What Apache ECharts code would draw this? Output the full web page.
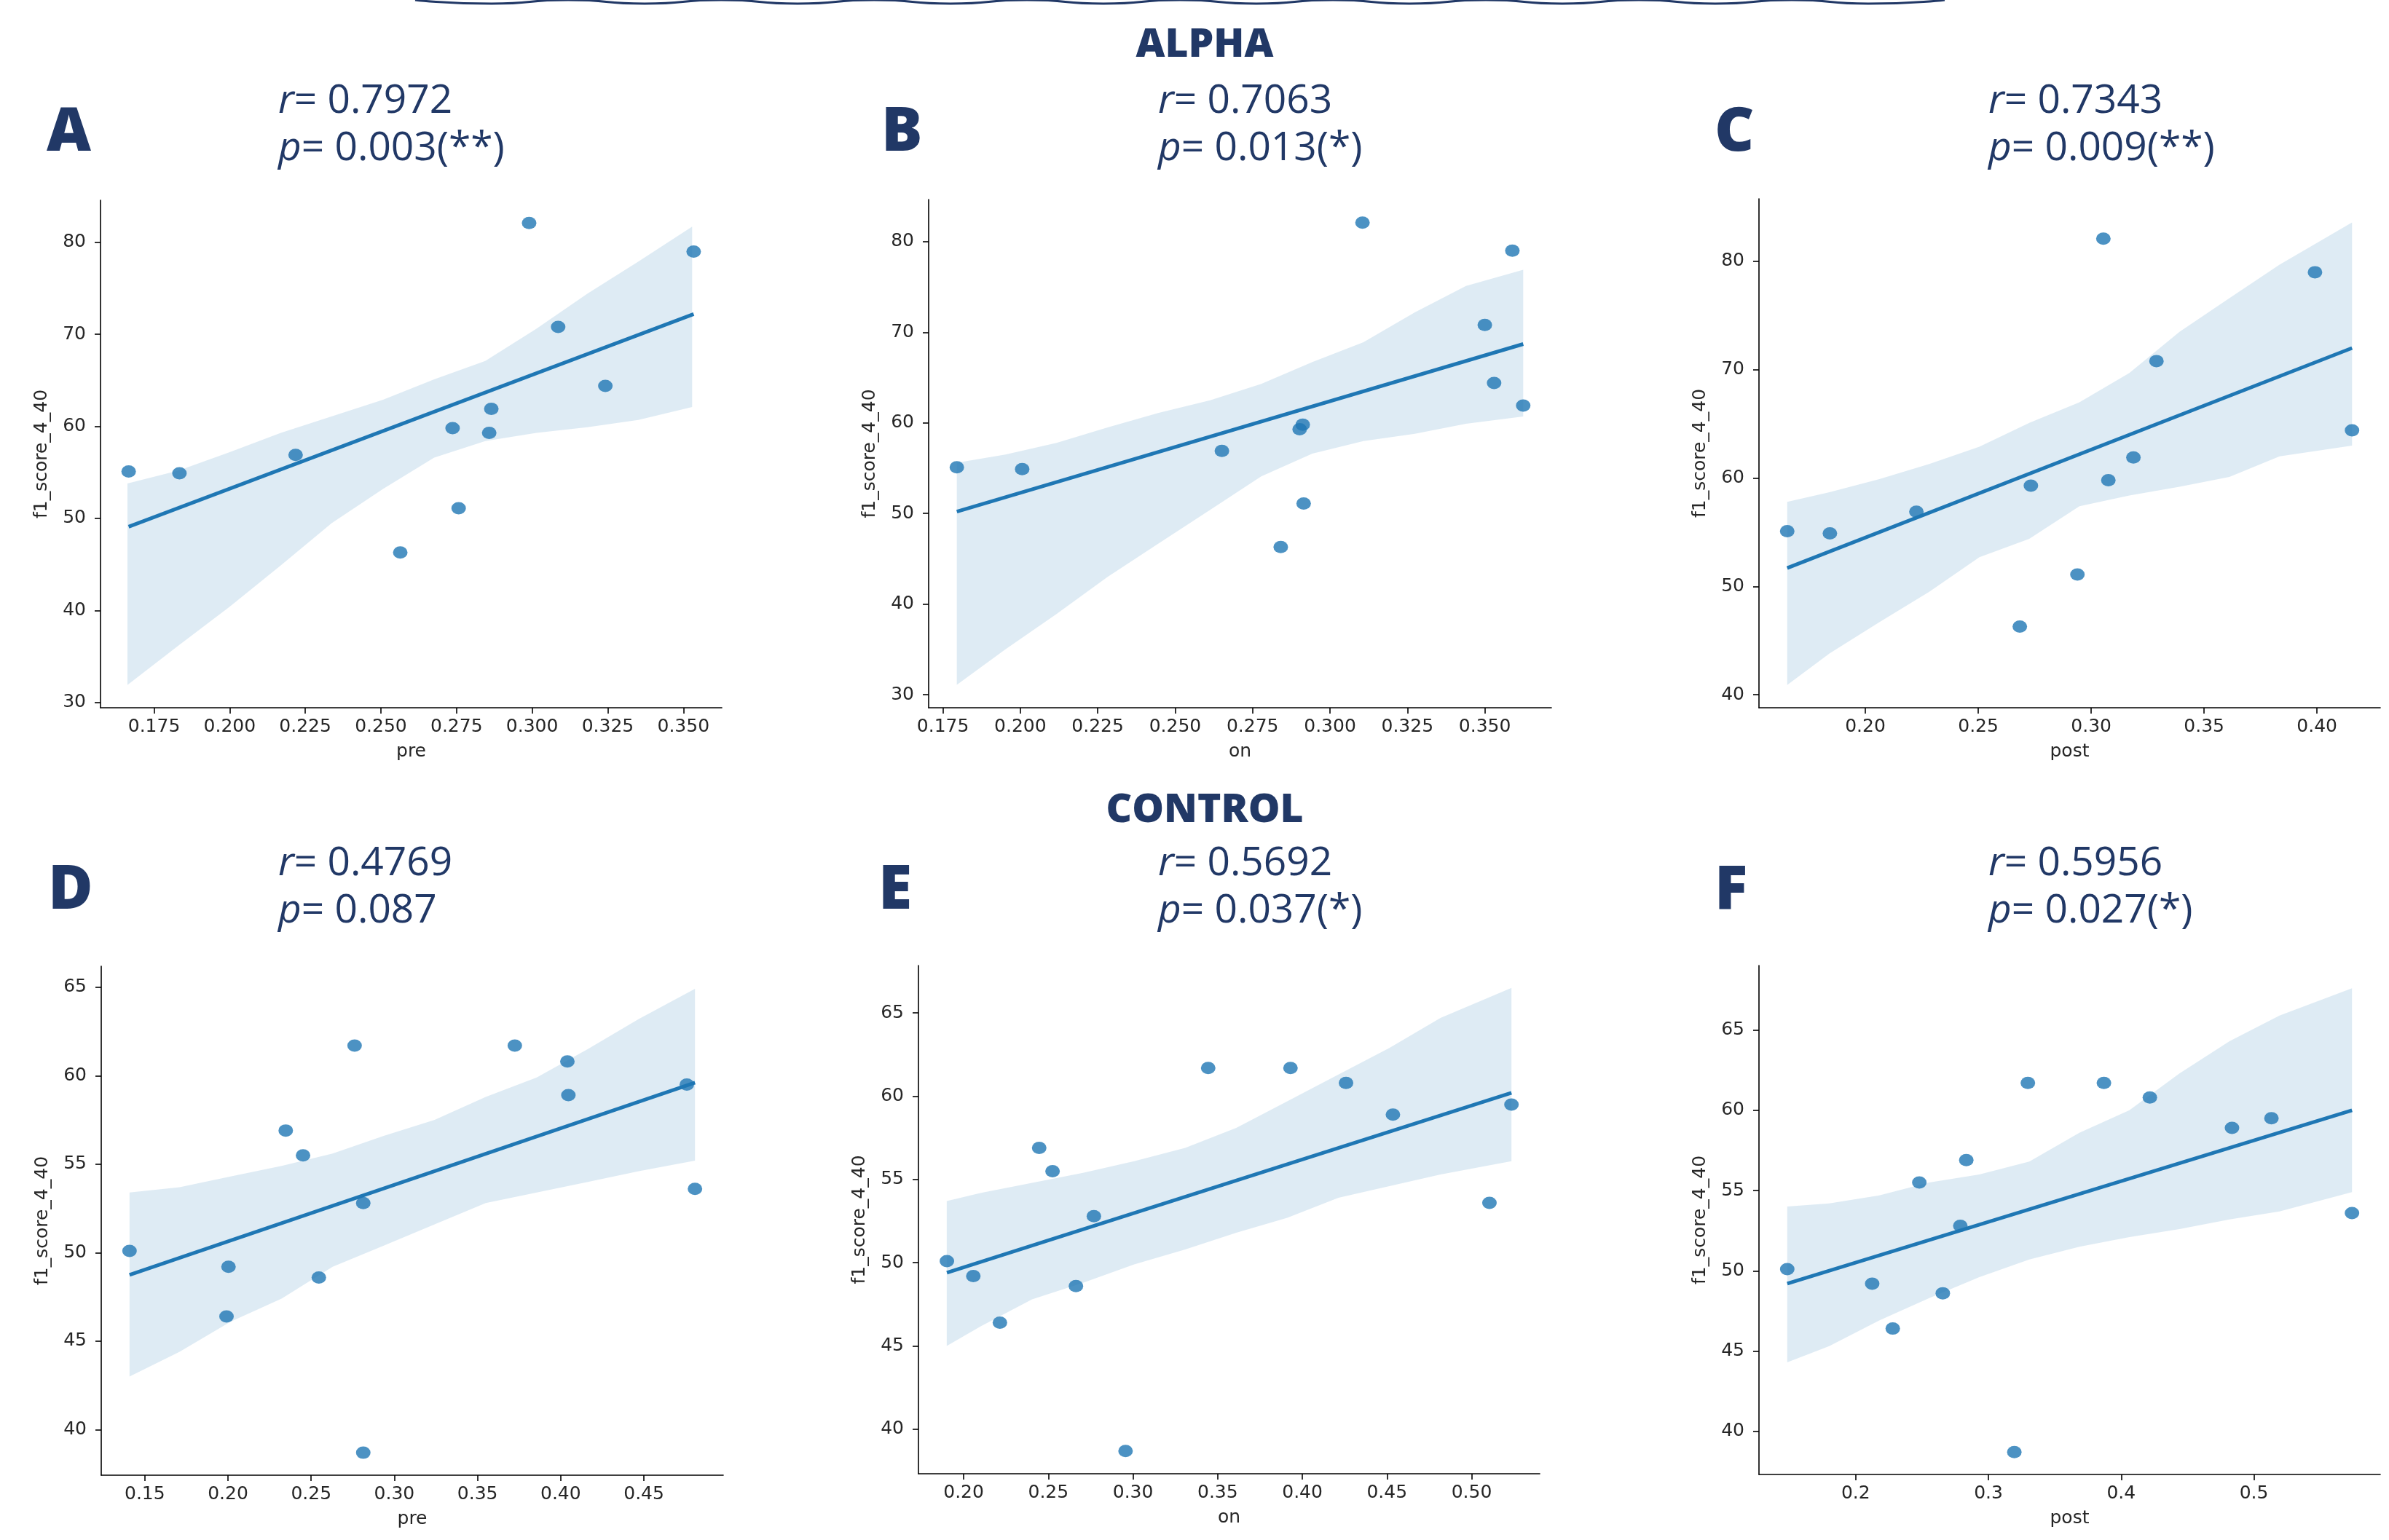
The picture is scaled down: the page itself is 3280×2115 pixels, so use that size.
<!DOCTYPE html>
<html>
<head>
<meta charset="utf-8">
<script src="https://cdn.jsdelivr.net/npm/echarts@6/dist/echarts.min.js"></script>
<style>
html,body{margin:0;padding:0;background:#fff;}
#chart{width:3280px;height:2115px;}
</style>
</head>
<body>
<div id="chart"></div>
<script>
// ---------------- DATA ----------------
// ALPHA group: f1_score_4_40 (12 subjects)
var alphaY    = [55.1, 54.9, 56.9, 46.3, 59.8, 51.1, 61.9, 59.3, 82.1, 70.8, 64.4, 79.0];
var alphaPre  = [0.1666, 0.1834, 0.2218, 0.2564, 0.2737, 0.2757, 0.2865, 0.2858, 0.2990, 0.3086, 0.3242, 0.3534];
var alphaOn   = [0.1795, 0.2006, 0.2651, 0.2841, 0.2912, 0.2915, 0.3624, 0.2902, 0.3105, 0.3500, 0.3530, 0.3589];
var alphaPost = [0.1654, 0.1843, 0.2226, 0.2684, 0.3076, 0.2939, 0.3187, 0.2733, 0.3054, 0.3289, 0.4155, 0.3991];

// CONTROL group: f1_score_4_40 (14 subjects)
var controlY    = [50.1, 49.2, 46.4, 56.9, 55.5, 48.6, 61.7, 52.8, 38.7, 61.7, 60.8, 58.9, 59.5, 53.6];
var controlPre  = [0.1408, 0.2003, 0.1991, 0.2347, 0.2451, 0.2546, 0.2761, 0.2813, 0.2813, 0.3724, 0.4040, 0.4046, 0.4758, 0.4807];
var controlOn   = [0.1901, 0.2057, 0.2214, 0.2446, 0.2525, 0.2663, 0.3444, 0.2769, 0.2956, 0.3930, 0.4258, 0.4535, 0.5235, 0.5105];
var controlPost = [0.1484, 0.2124, 0.2279, 0.2833, 0.2479, 0.2656, 0.3297, 0.2788, 0.3195, 0.3870, 0.4216, 0.4835, 0.5132, 0.5739];

// regression line end points
var lineA = [[0.1666, 49.1], [0.3534, 72.2]];
var lineB = [[0.1795, 50.2], [0.3624, 68.7]];
var lineC = [[0.1654, 51.7], [0.4155, 72.0]];
var lineD = [[0.1408, 48.75], [0.4807, 59.6]];
var lineE = [[0.1901, 49.4], [0.5235, 60.2]];
var lineF = [[0.1484, 49.2], [0.5739, 60.0]];

// confidence bands (x, upper, lower)
var bandAx = [0.1662,0.1831,0.2000,0.2169,0.2338,0.2507,0.2676,0.2845,0.3014,0.3182,0.3351,0.3529];
var bandAu = [53.8,55.2,57.2,59.3,61.1,62.9,65.1,67.1,70.6,74.4,77.9,81.7];
var bandAl = [31.9,36.2,40.4,44.9,49.5,53.2,56.6,58.4,59.3,59.9,60.7,62.1];

var bandBx = [0.1795,0.1952,0.2117,0.2282,0.2447,0.2613,0.2778,0.2943,0.3108,0.3274,0.3439,0.3624];
var bandBu = [55.6,56.5,57.8,59.5,61.1,62.5,64.3,66.7,68.9,72.2,75.1,76.9];
var bandBl = [31.1,35.0,38.9,43.0,46.7,50.4,54.1,56.6,58.0,58.8,59.9,60.7];

var bandCx = [0.1654,0.1841,0.2062,0.2283,0.2505,0.2726,0.2948,0.3169,0.3391,0.3612,0.3834,0.4155];
var bandCu = [57.8,58.7,59.9,61.3,62.9,65.1,67.0,69.7,73.5,76.6,79.7,83.6];
var bandCl = [40.9,43.8,46.7,49.5,52.7,54.4,57.4,58.4,59.2,60.1,62.0,63.0];

var bandDx = [0.1408,0.1709,0.2015,0.2322,0.2629,0.2936,0.3242,0.3549,0.3856,0.4163,0.4469,0.4807];
var bandDu = [53.4,53.7,54.3,54.9,55.6,56.6,57.5,58.8,59.9,61.5,63.2,64.9];
var bandDl = [43.0,44.4,46.1,47.4,49.2,50.4,51.6,52.8,53.4,54.0,54.6,55.2];

var bandEx = [0.1900,0.2103,0.2404,0.2705,0.3007,0.3308,0.3610,0.3911,0.4213,0.4514,0.4816,0.5235];
var bandEu = [53.7,54.2,54.8,55.4,56.1,56.9,58.1,59.7,61.3,62.9,64.7,66.5];
var bandEl = [45.0,46.2,47.8,48.8,49.9,50.8,51.8,52.7,53.9,54.6,55.3,56.1];

var bandFx = [0.1484,0.1800,0.2177,0.2554,0.2931,0.3308,0.3685,0.4062,0.4439,0.4816,0.5193,0.5739];
var bandFu = [54.0,54.2,54.7,55.5,56.0,56.8,58.6,60.0,62.3,64.3,65.9,67.6];
var bandFl = [44.3,45.3,46.9,48.3,49.6,50.7,51.5,52.1,52.6,53.2,53.7,54.9];

// tick values
var xTicksA = [0.175,0.200,0.225,0.250,0.275,0.300,0.325,0.350];
var xTicksB = [0.175,0.200,0.225,0.250,0.275,0.300,0.325,0.350];
var xTicksC = [0.20,0.25,0.30,0.35,0.40];
var xTicksD = [0.15,0.20,0.25,0.30,0.35,0.40,0.45];
var xTicksE = [0.20,0.25,0.30,0.35,0.40,0.45,0.50];
var xTicksF = [0.2,0.3,0.4,0.5];
var yTicksAB = [30,40,50,60,70,80];
var yTicksC = [40,50,60,70,80];
var yTicksDEF = [40,45,50,55,60,65];

// annotations
var panelLetters = ['A','B','C','D','E','F'];
var rTexts = ['0.7972','0.7063','0.7343','0.4769','0.5692','0.5956'];
var pTexts = ['0.003(**)','0.013(*)','0.009(**)','0.087','0.037(*)','0.027(*)'];
var groupTitles = ['ALPHA','CONTROL'];
var xNames = ['pre','on','post','pre','on','post'];
var yName = 'f1_score_4_40';

// ---------------- LAYOUT ----------------
var panels = [
  {grid:{left:138, top:275, width:853, height:697}, x:alphaPre, y:alphaY, line:lineA, bx:bandAx, bu:bandAu, bl:bandAl, xt:xTicksA, yt:yTicksAB, dec:3, xmin:0.1573, xmax:0.3627, ymin:29.43, ymax:84.57},
  {grid:{left:1275, top:274, width:855, height:698}, x:alphaOn, y:alphaY, line:lineB, bx:bandBx, bu:bandBu, bl:bandBl, xt:xTicksB, yt:yTicksAB, dec:3, xmin:0.1704, xmax:0.3715, ymin:28.56, ymax:84.65},
  {grid:{left:2415, top:273, width:853, height:699}, x:alphaPost, y:alphaY, line:lineC, bx:bandCx, bu:bandCu, bl:bandCl, xt:xTicksC, yt:yTicksC, dec:2, xmin:0.1529, xmax:0.4280, ymin:38.8, ymax:85.78},
  {grid:{left:139, top:1327, width:854, height:699}, x:controlPre, y:controlY, line:lineD, bx:bandDx, bu:bandDu, bl:bandDl, xt:xTicksD, yt:yTicksDEF, dec:2, xmin:0.1238, xmax:0.4977, ymin:37.43, ymax:66.18},
  {grid:{left:1261, top:1326, width:853, height:698}, x:controlOn, y:controlY, line:lineE, bx:bandEx, bu:bandEu, bl:bandEl, xt:xTicksE, yt:yTicksDEF, dec:2, xmin:0.1733, xmax:0.5402, ymin:37.33, ymax:67.85},
  {grid:{left:2415, top:1326, width:853, height:699}, x:controlPost, y:controlY, line:lineF, bx:bandFx, bu:bandFu, bl:bandFl, xt:xTicksF, yt:yTicksDEF, dec:1, xmin:0.1271, xmax:0.5952, ymin:37.31, ymax:69.02}
];

var NAVY = '#213866';
var TXT = '#262626';
var BLUE = '#1f77b4';
var tickFont = 'DejaVu Sans';

var grids = [], xAxes = [], yAxes = [], series = [];
panels.forEach(function(p, i){
  grids.push({left:p.grid.left, top:p.grid.top, width:p.grid.width, height:p.grid.height, containLabel:false, outerBoundsMode:'none'});
  xAxes.push({
    type:'value', gridIndex:i, min:p.xmin, max:p.xmax,
    splitLine:{show:false},
    axisLine:{show:true, onZero:false, lineStyle:{color:'#000', width:1.6}},
    axisTick:{show:true, length:8, customValues:p.xt, lineStyle:{color:'#000', width:1.6}},
    axisLabel:{customValues:p.xt, formatter:(function(d){return function(v){return Number(v).toFixed(d);};})(p.dec),
      fontSize:25, color:TXT, margin:14, fontFamily:tickFont},
    name:xNames[i], nameLocation:'middle', nameGap:48,
    nameTextStyle:{fontSize:25, color:TXT, fontFamily:tickFont}
  });
  yAxes.push({
    type:'value', gridIndex:i, min:p.ymin, max:p.ymax,
    splitLine:{show:false},
    axisLine:{show:true, onZero:false, lineStyle:{color:'#000', width:1.6}},
    axisTick:{show:true, length:8, customValues:p.yt, lineStyle:{color:'#000', width:1.6}},
    axisLabel:{customValues:p.yt, fontSize:25, color:TXT, margin:20, fontFamily:tickFont},
    name:yName, nameLocation:'middle', nameGap:68,
    nameTextStyle:{fontSize:25, color:TXT, fontFamily:tickFont}
  });
  // confidence band
  (function(pp){
    series.push({
      type:'custom', xAxisIndex:i, yAxisIndex:i, z:1, silent:true,
      data:[[pp.bx[0], pp.bu[0]]],
      encode:{x:0, y:1},
      renderItem:function(params, api){
        var pts = [];
        for (var k=0;k<pp.bx.length;k++) pts.push(api.coord([pp.bx[k], pp.bu[k]]));
        for (var k2=pp.bx.length-1;k2>=0;k2--) pts.push(api.coord([pp.bx[k2], pp.bl[k2]]));
        return {type:'polygon', shape:{points:pts}, style:{fill:'rgba(31,119,180,0.15)', stroke:null}};
      }
    });
  })(p);
  series.push({
    type:'line', xAxisIndex:i, yAxisIndex:i, z:3, silent:true,
    data:p.line, symbol:'none', showSymbol:false,
    lineStyle:{color:BLUE, width:5}
  });
  series.push({
    type:'scatter', xAxisIndex:i, yAxisIndex:i, z:4, silent:true,
    data:p.x.map(function(v,j){return [v, p.y[j]];}),
    symbol:'circle', symbolSize:[20,17],
    itemStyle:{color:BLUE, opacity:0.8}
  });
});

// text annotations
var graphics = [];
var letterPos = [[64,183],[1210,183],[2354,183],[66,1224],[1206,1224],[2354,1224]];
var statPos = [[382,139,204],[1590,139,204],[2730,139,204],[382,1186,1251],[1590,1186,1251],[2730,1186,1251]];
for (var i=0;i<6;i++){
  graphics.push({type:'text', x:letterPos[i][0], y:letterPos[i][1], z:10,
    style:{text:panelLetters[i], fill:NAVY, font:'800 84px "Open Sans"', textAlign:'left', textVerticalAlign:'middle'}});
  graphics.push({type:'text', x:statPos[i][0], y:statPos[i][1], z:10,
    style:{text:'{i|r}{n|= ' + rTexts[i] + '}', textAlign:'left', textVerticalAlign:'middle',
      rich:{i:{fontStyle:'italic', fontSize:55, fontFamily:'Open Sans', fill:NAVY, color:NAVY},
            n:{fontSize:55, fontFamily:'Open Sans', fill:NAVY, color:NAVY}}}});
  graphics.push({type:'text', x:statPos[i][0], y:statPos[i][2], z:10,
    style:{text:'{i|p}{n|= ' + pTexts[i] + '}', textAlign:'left', textVerticalAlign:'middle',
      rich:{i:{fontStyle:'italic', fontSize:55, fontFamily:'Open Sans', fill:NAVY, color:NAVY},
            n:{fontSize:55, fontFamily:'Open Sans', fill:NAVY, color:NAVY}}}});
}
graphics.push({type:'text', x:1654, y:62, z:10,
  style:{text:groupTitles[0], fill:NAVY, font:'800 55px "Open Sans"', textAlign:'center', textVerticalAlign:'middle'}});
graphics.push({type:'text', x:1654, y:1113, z:10,
  style:{text:groupTitles[1], fill:NAVY, font:'800 55px "Open Sans"', textAlign:'center', textVerticalAlign:'middle'}});

// decorative scalloped banner edge at the very top
var scallop = [];
for (var sx=570; sx<=2673; sx+=105){
  scallop.push([sx, ((sx-570)/105)%2===0 ? 0 : 5]);
}
graphics.push({type:'polyline', z:10, shape:{points:scallop, smooth:0.6},
  style:{stroke:NAVY, lineWidth:3, fill:null}});

var chart = echarts.init(document.getElementById('chart'), null, {renderer:'canvas'});
chart.setOption({
  backgroundColor:'#ffffff',
  animation:false,
  grid:grids, xAxis:xAxes, yAxis:yAxes, series:series,
  graphic:graphics
});
</script>
</body>
</html>
